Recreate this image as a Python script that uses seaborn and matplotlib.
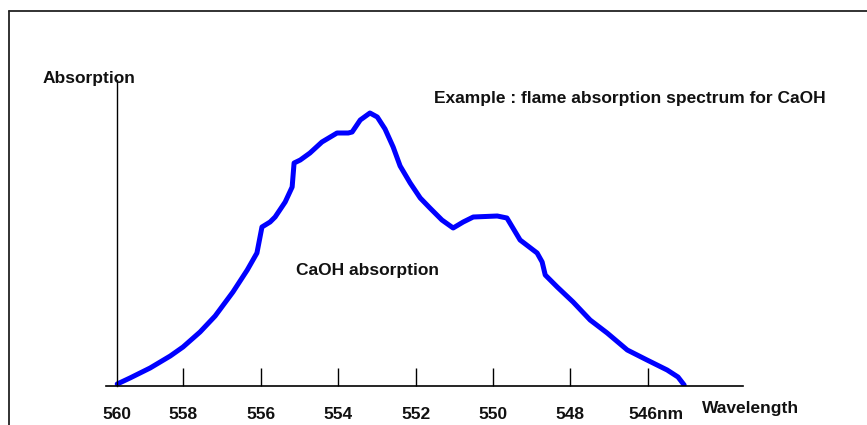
import matplotlib
matplotlib.use("Agg")
import matplotlib.pyplot as plt
from matplotlib.lines import Line2D
from matplotlib.transforms import ScaledTranslation
import seaborn as sns
import pandas as pd

# Flame absorption spectrum of CaOH (wavelength in nm, absorption in arbitrary units)
wavelength = [559.71, 559.38, 558.86, 558.34, 558.01, 557.57, 557.18, 556.72, 556.35,
              556.10, 556.02, 555.97, 555.76, 555.63, 555.37, 555.19, 555.14, 554.98,
              554.73, 554.42, 554.03, 553.74, 553.64, 553.43, 553.18, 552.99, 552.79,
              552.58, 552.40, 552.14, 551.88, 551.63, 551.32, 551.03, 550.77, 550.51,
              549.89, 549.64, 549.30, 548.86, 548.73, 548.65, 548.34, 547.93, 547.49,
              547.05, 546.53, 546.02, 545.50, 545.22, 545.06]
absorption = [2, 8, 18, 30, 39, 54, 70, 94, 116,
              133, 149, 159, 164, 169, 184, 199, 223, 226,
              233, 244, 253, 253, 254, 266, 273, 269, 257,
              239, 220, 203, 188, 178, 166, 158, 164, 169,
              170, 168, 146, 133, 124, 111, 99, 84, 66,
              53, 36, 26, 16, 9, 1]

tick_positions = [559.71, 558, 556, 554, 552, 550, 548, 546]
tick_labels = ["560", "558", "556", "554", "552", "550", "548", "546nm"]

sns.set_theme(style="white")
plt.rcParams["font.family"] = ["Liberation Sans", "DejaVu Sans"]
plt.rcParams["font.weight"] = "bold"

W, H = 867, 425
fig = plt.figure(figsize=(W / 100, H / 100), dpi=100)
fig.patch.set_facecolor("white")

def fx(px):
    return px / W

def fy(py):
    return 1 - py / H

ax = fig.add_axes([fx(106), fy(386), fx(743) - fx(106), fy(80) - fy(386)])
ax.set_facecolor("white")

df = pd.DataFrame({"Wavelength": wavelength, "Absorption": absorption})
sns.lineplot(data=df, x="Wavelength", y="Absorption", sort=False, estimator=None,
             color="#0000ff", linewidth=3.6, ax=ax)

ax.set_xlim(560.0, 543.54)
ax.set_ylim(0, 306)

for side in ("top", "right"):
    ax.spines[side].set_visible(False)
ax.spines["bottom"].set_color("black")
ax.spines["bottom"].set_linewidth(1.2)
ax.spines["left"].set_color("black")
ax.spines["left"].set_linewidth(1.0)
ax.spines["left"].set_position(("data", tick_positions[0]))

label_font = dict(fontsize=12.5, fontweight="bold")
ax.set_xticks(tick_positions)
ax.set_xticklabels(tick_labels, color="#111111", **label_font)
ax.tick_params(axis="x", direction="in", length=13, width=1.0, color="black",
               pad=15, bottom=True)
ax.set_yticks([])
ax.get_xaxis().get_major_ticks()[0].tick1line.set_visible(False)
last = ax.get_xticklabels()[-1]
last.set_transform(last.get_transform() + ScaledTranslation(8 / 100, 0, fig.dpi_scale_trans))

ax.set_xlabel("")
ax.set_ylabel("")

txt = dict(color="#111111", va="center", ha="left", **label_font)
fig.text(fx(43), fy(78), "Absorption", **txt)
fig.text(fx(434), fy(98), "Example : flame absorption spectrum for CaOH", **txt)
fig.text(fx(296), fy(271), "CaOH absorption", **txt)
fig.text(fx(702), fy(408), "Wavelength", **txt)

# outer frame: top and left edges
fig.add_artist(Line2D([fx(9), 1.0], [fy(11), fy(11)], color="#222222", linewidth=1.3))
fig.add_artist(Line2D([fx(9), fx(9)], [fy(11), 0.0], color="#222222", linewidth=1.3))

fig.savefig("out.png", dpi=100, facecolor="white")
